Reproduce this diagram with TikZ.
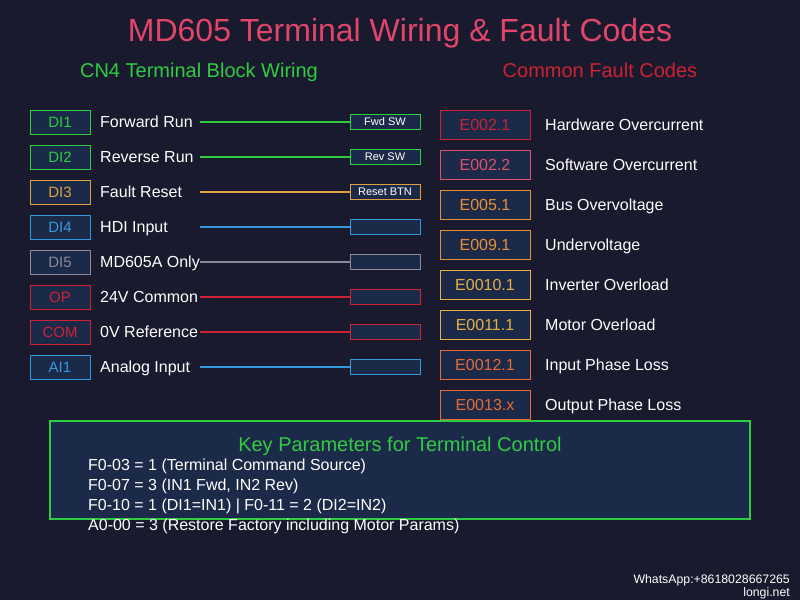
\documentclass[tikz,border=0pt]{standalone}
\usepackage{fontspec}
\setmainfont{Liberation Sans}
\definecolor{bg}{HTML}{1A1A2E}
\definecolor{boxfill}{HTML}{1C2A4A}
\definecolor{titlec}{HTML}{E0456A}
\definecolor{grn}{HTML}{2ECC40}
\definecolor{org}{HTML}{E0A040}
\definecolor{blu}{HTML}{3399DD}
\definecolor{gry}{HTML}{8A8A9A}
\definecolor{rd}{HTML}{CC2233}
\definecolor{pnk}{HTML}{E05068}
\definecolor{ora}{HTML}{E89030}
\definecolor{gld}{HTML}{E8B040}
\definecolor{orr}{HTML}{E86A30}
\begin{document}
\begin{tikzpicture}[x=1pt,y=-1pt,
  term/.style={draw=#1, text=#1, fill=boxfill, line width=1pt, minimum width=60pt, minimum height=24pt, inner sep=0pt, font=\fontsize{15}{15}\selectfont},
  sw/.style={draw=#1, fill=boxfill, line width=1pt, minimum width=70pt, minimum height=15pt, inner sep=0pt, text=white, font=\fontsize{11}{11}\selectfont},
  wire/.style={draw=#1, line width=1.2pt},
  lbl/.style={anchor=base west, text=white, inner sep=0pt, font=\fontsize{16}{16}\selectfont},
  code/.style={draw=#1, text=#1, fill=boxfill, line width=1pt, minimum width=90pt, minimum height=29pt, inner sep=0pt, font=\fontsize{16}{16}\selectfont},
  param/.style={anchor=base west, text=white, inner sep=0pt, font=\fontsize{16}{16}\selectfont}]
\fill[bg] (0,0) rectangle (800,600);
\useasboundingbox (0,0) rectangle (800,600);
\node[anchor=base, text=titlec, inner sep=0pt, font=\fontsize{32}{32}\selectfont] (title) at (400,41.5) {MD605 Terminal Wiring \& Fault Codes};
\node[anchor=base, text=grn, inner sep=0pt, font=\fontsize{20}{20}\selectfont] (lhead) at (199,77) {CN4 Terminal Block Wiring};
\node[anchor=base, text=rd, inner sep=0pt, font=\fontsize{20}{20}\selectfont] (rhead) at (600,77) {Common Fault Codes};
% left column
\foreach \i/\t/\l/\c/\s in {1/DI1/Forward Run/grn/Fwd SW, 2/DI2/Reverse Run/grn/Rev SW, 3/DI3/Fault Reset/org/Reset BTN, 4/DI4/HDI Input/blu/, 5/DI5/MD605A Only/gry/, 6/OP/24V Common/rd/, 7/COM/0V Reference/rd/, 8/AI1/Analog Input/blu/}{
  \pgfmathsetmacro{\yy}{87+35*\i}
  \node[term=\c] (t\i) at (60,\yy) {\t};
  \node[lbl] (l\i) at (100,\yy+5.7) {\l};
  \coordinate (w\i) at (200,\yy);
  \node[sw=\c] (s\i) at (385,\yy) {\s};
  \draw[wire=\c] (w\i) -- (s\i.west);
}
% right column
\foreach \i/\t/\l/\c in {1/E002.1/Hardware Overcurrent/rd, 2/E002.2/Software Overcurrent/pnk, 3/E005.1/Bus Overvoltage/ora, 4/E009.1/Undervoltage/ora, 5/E0010.1/Inverter Overload/gld, 6/E0011.1/Motor Overload/gld, 7/E0012.1/Input Phase Loss/orr, 8/E0013.x/Output Phase Loss/orr}{
  \pgfmathsetmacro{\yy}{84.5+40*\i}
  \node[code=\c] (c\i) at (485,\yy) {\t};
  \node[lbl] (d\i) at (545,\yy+5.7) {\l};
}
% parameters box
\node[draw=grn, fill=boxfill, line width=2pt, minimum width=700pt, minimum height=98pt, inner sep=0pt] (pbox) at (400,470) {};
\node[anchor=base, text=grn, inner sep=0pt, font=\fontsize{20}{20}\selectfont] (ptitle) at (400,451.5) {Key Parameters for Terminal Control};
\node[param] (p1) at (88,470.5) {F0-03 = 1 (Terminal Command Source)};
\node[param] (p2) at (88,490.5) {F0-07 = 3 (IN1 Fwd, IN2 Rev)};
\node[param] (p3) at (88,510.5) {F0-10 = 1 (DI1=IN1) | F0-11 = 2 (DI2=IN2)};
\node[param] (p4) at (88,530.5) {A0-00 = 3 (Restore Factory including Motor Params)};
% watermark
\node[anchor=base east, text=white, inner sep=0pt, font=\fontsize{12.3}{12.3}\selectfont] (wa) at (790,583.5) {WhatsApp:+8618028667265};
\node[anchor=base east, text=white, inner sep=0pt, font=\fontsize{12.3}{12.3}\selectfont] (web) at (790,596.5) {longi.net};
\end{tikzpicture}
\end{document}
